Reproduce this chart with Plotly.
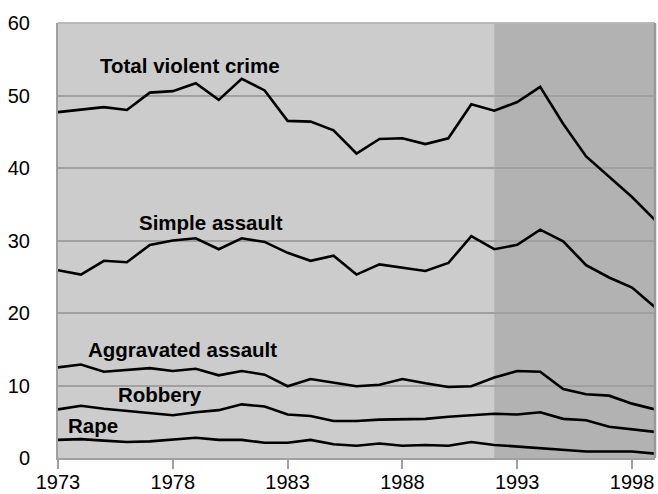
import plotly.graph_objects as go

years = list(range(1973, 2000))
total_violent = [47.7, 48.0, 48.4, 48.0, 50.4, 50.6, 51.7, 49.4, 52.3, 50.7, 46.5, 46.4, 45.2, 42.0,
                 44.0, 44.1, 43.3, 44.1, 48.8, 47.9, 49.1, 51.2, 46.1, 41.6, 38.8, 36.0, 32.8]
simple_assault = [25.9, 25.3, 27.2, 27.0, 29.4, 30.0, 30.3, 28.8, 30.3, 29.8, 28.3, 27.2, 27.9, 25.3,
                  26.7, 26.3, 25.8, 26.9, 30.6, 28.8, 29.4, 31.5, 29.9, 26.6, 24.9, 23.5, 20.8]
aggravated_assault = [12.5, 12.9, 11.9, 12.2, 12.4, 12.0, 12.3, 11.4, 12.0, 11.5, 9.9, 10.9, 10.4, 9.9,
                      10.1, 10.9, 10.3, 9.8, 9.9, 11.1, 12.0, 11.9, 9.5, 8.8, 8.6, 7.5, 6.7]
robbery = [6.7, 7.2, 6.8, 6.5, 6.2, 5.9, 6.3, 6.6, 7.4, 7.1, 6.0, 5.8, 5.1, 5.1,
           5.3, 5.3, 5.4, 5.7, 5.9, 6.1, 6.0, 6.3, 5.4, 5.2, 4.3, 4.0, 3.6]
rape = [2.5, 2.6, 2.4, 2.2, 2.3, 2.6, 2.8, 2.5, 2.5, 2.1, 2.1, 2.5, 1.9, 1.7,
        2.0, 1.7, 1.8, 1.7, 2.2, 1.8, 1.6, 1.4, 1.2, 0.9, 0.9, 0.9, 0.6]

series = [("Total violent crime", total_violent), ("Simple assault", simple_assault),
          ("Aggravated assault", aggravated_assault), ("Robbery", robbery), ("Rape", rape)]

# label positions (data coords)
labels = [("Total violent crime", 1978.75, 54.2), ("Simple assault", 1979.66, 32.55),
          ("Aggravated assault", 1978.42, 14.9), ("Robbery", 1977.44, 8.7), ("Rape", 1974.52, 4.55)]
tick_years = [1973, 1978, 1983, 1988, 1993, 1998]
shade_start = 1992

fig = go.Figure()
for name, vals in series:
    fig.add_trace(go.Scatter(x=years, y=vals, mode="lines", name=name,
                             line=dict(color="black", width=2.6), showlegend=False))

fig.add_shape(type="rect", xref="x", yref="y", x0=shade_start, x1=years[-1], y0=0, y1=60,
              fillcolor="#B2B2B2", line=dict(width=0), layer="below")
# frame: top and right edges
fig.add_shape(type="line", xref="paper", yref="paper", x0=0, x1=1, y0=1, y1=1,
              line=dict(color="#B8B8B8", width=2))
fig.add_shape(type="line", xref="paper", yref="paper", x0=1, x1=1, y0=0, y1=1,
              line=dict(color="#999999", width=2.5))

for text, x, y in labels:
    fig.add_annotation(x=x, y=y, text="<b>" + text + "</b>", showarrow=False,
                       font=dict(family="Liberation Sans, Arial", size=20.5, color="black"))

fig.update_layout(
    width=658, height=494,
    margin=dict(l=58, r=3, t=23, b=36),
    paper_bgcolor="white", plot_bgcolor="#CCCCCC",
    font=dict(family="Liberation Sans, Arial", size=20, color="black"),
)
fig.update_xaxes(range=[1973, 1999], tickvals=tick_years, ticks="outside", ticklen=9,
                 tickcolor="#A0A0A0", tickwidth=2, showgrid=False, showline=True,
                 linecolor="#A0A0A0", linewidth=2, zeroline=False, automargin=False,
                 ticklabelstandoff=-4)
fig.update_yaxes(range=[0, 60], tickvals=[0, 10, 20, 30, 40, 50, 60], showgrid=True,
                 gridcolor="#A0A0A0", gridwidth=1.5, showline=True, linecolor="#A0A0A0",
                 linewidth=2, zeroline=False, ticklabelstandoff=22, automargin=False)

fig.write_html("out.html", config={"displayModeBar": False},
               post_script="document.body.style.margin='0';document.body.style.overflow='hidden';")
